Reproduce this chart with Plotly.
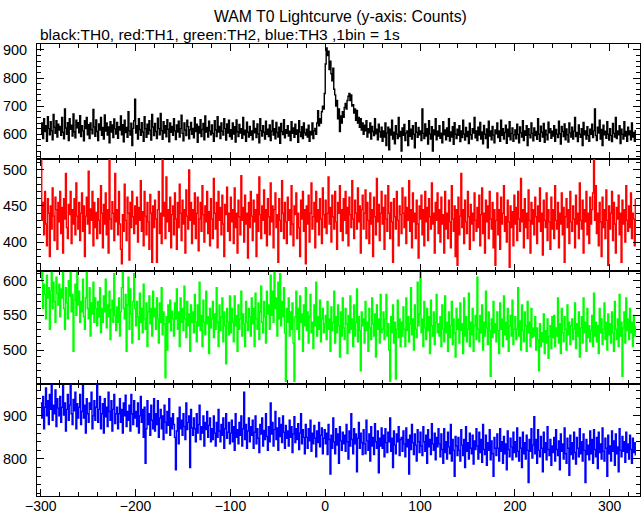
import plotly.graph_objects as go
from plotly.subplots import make_subplots

T_START = -300  # first bin time (s), 1 bin = 1 s

th0 = [
600, 640, 585, 655, 610, 630, 575, 662, 620, 598, 645, 612, 580, 670, 625, 603, 648, 590, 636, 615,
628, 596, 660, 607, 584, 690, 622, 600, 641, 578, 655, 618, 632, 594, 672, 609, 587, 650, 623, 641,
605, 666, 592, 630, 612, 577, 648, 620, 660, 598, 634, 585, 640, 617, 602, 688, 626, 593, 651, 610,
578, 637, 615, 660, 596, 624, 583, 669, 611, 640, 597, 626, 570, 645, 608, 633, 588, 654, 619, 601,
642, 586, 627, 615, 665, 598, 634, 573, 650, 606, 624, 589, 680, 612, 597, 639, 560, 621, 648, 725,
604, 630, 583, 655, 617, 596, 641, 608, 575, 662, 620, 589, 636, 601, 648, 614, 579, 670, 626, 595,
638, 610, 585, 657, 620, 598, 674, 613, 582, 645, 604, 630, 591, 652, 618, 573, 640, 607, 628, 596,
655, 612, 581, 633, 608, 646, 590, 620, 668, 603, 577, 640, 615, 595, 650, 627, 584, 616, 642, 600,
621, 587, 659, 610, 636, 571, 628, 604, 652, 592, 617, 638, 580, 665, 608, 624, 590, 646, 612, 598,
633, 603, 575, 648, 615, 592, 662, 608, 628, 585, 640, 611, 597, 655, 620, 579, 637, 604, 650, 592,
616, 583, 640, 601, 627, 572, 651, 609, 592, 635, 604, 620, 586, 660, 598, 614, 575, 643, 607, 590,
628, 596, 612, 580, 647, 605, 621, 588, 637, 602, 570, 655, 613, 594, 630, 607, 583, 646, 600, 618,
592, 633, 578, 611, 649, 597, 620, 584, 642, 606, 590, 625, 568, 638, 610, 599, 652, 587, 616, 603,
630, 594, 611, 578, 645, 603, 622, 589, 636, 600, 615, 571, 648, 608, 592, 627, 585, 640, 605, 597,
618, 590, 632, 575, 610, 598, 640, 585, 612, 621, 600, 640, 684, 630, 655, 640, 680, 700, 690, 745,
850, 907, 880, 895, 830, 860, 815, 790, 835, 760, 740, 700, 720, 655, 690, 610, 665, 640, 680, 660,
695, 710, 690, 720, 735, 745, 720, 740, 700, 705, 675, 690, 650, 685, 640, 660, 625, 655, 615, 640,
600, 632, 612, 648, 590, 620, 605, 640, 583, 628, 610, 595, 655, 602, 618, 580, 636, 609, 590, 625,
575, 612, 590, 640, 560, 605, 625, 545, 618, 597, 650, 583, 607, 566, 630, 600, 585, 660, 592, 610,
540, 622, 596, 635, 578, 604, 612, 560, 648, 593, 618, 583, 630, 600, 552, 641, 607, 589, 624, 598,
612, 578, 690, 603, 585, 637, 594, 620, 565, 648, 601, 583, 627, 540, 615, 598, 655, 580, 611, 594,
630, 586, 604, 570, 645, 598, 615, 580, 622, 593, 655, 576, 608, 590, 627, 564, 641, 600, 585, 618,
596, 630, 574, 612, 588, 650, 601, 579, 624, 592, 610, 567, 639, 598, 583, 620, 604, 660, 587, 612,
578, 625, 597, 642, 583, 608, 566, 631, 600, 585, 619, 552, 646, 594, 612, 580, 628, 597, 570, 615,
602, 640, 588, 612, 575, 650, 596, 620, 583, 606, 632, 568, 618, 592, 645, 580, 603, 622, 575, 598,
615, 584, 636, 599, 570, 626, 605, 590, 648, 578, 612, 596, 630, 560, 620, 598, 587, 640, 603, 577,
622, 595, 610, 582, 655, 600, 575, 629, 607, 590, 638, 571, 614, 598, 580, 643, 605, 620, 586, 611,
594, 630, 575, 617, 600, 588, 646, 602, 565, 628, 610, 592, 637, 580, 619, 598, 572, 640, 605, 590,
625, 583, 611, 660, 592, 606, 574, 633, 600, 589, 620, 560, 642, 598, 612, 583, 627, 596, 575, 618,
600, 636, 588, 612, 690, 595, 578, 625, 604, 650, 583, 617, 560, 632, 598, 611, 586, 645, 600, 579,
620, 596, 574, 638, 603, 590, 660, 585, 612, 598, 630, 567, 618, 600, 583, 645, 594, 610, 575, 625,
598, 612, 580, 640, 590, 606, 575, 615,
]

th1 = [
515, 430, 455, 410, 470, 425, 395, 460, 440, 380, 450, 418, 475, 436, 402, 462, 445, 390, 455, 428,
470, 412, 448, 385, 460, 432, 495, 420, 405, 452, 438, 470, 398, 445, 425, 460, 410, 482, 436, 418,
455, 402, 440, 468, 415, 450, 380, 436, 462, 425, 498, 412, 446, 430, 470, 395, 455, 420, 441, 405,
460, 430, 412, 478, 440, 392, 452, 425, 468, 410, 445, 385, 515, 432, 418, 456, 440, 402, 495, 428,
445, 410, 470, 425, 390, 370, 438, 415, 480, 430, 402, 462, 440, 375, 455, 420, 470, 435, 412, 450,
425, 462, 400, 448, 430, 485, 415, 442, 395, 470, 436, 410, 455, 428, 390, 466, 440, 372, 450, 420,
458, 432, 372, 445, 470, 412, 440, 398, 515, 436, 455, 405, 490, 428, 445, 415, 462, 392, 438, 450,
410, 468, 432, 390, 455, 420, 480, 440, 402, 458, 425, 445, 385, 472, 436, 418, 500, 430, 455, 398,
445, 425, 468, 405, 440, 462, 388, 432, 455, 415, 478, 438, 400, 450, 428, 470, 412, 442, 395, 460,
432, 405, 488, 440, 418, 455, 392, 470, 430, 448, 410, 465, 425, 380, 452, 438, 476, 415, 440, 402,
462, 428, 445, 398, 475, 420, 440, 385, 458, 435, 410, 492, 430, 448, 400, 465, 425, 440, 378, 455,
420, 470, 436, 402, 458, 428, 445, 380, 466, 415, 490, 438, 405, 450, 430, 472, 412, 445, 395, 460,
435, 410, 482, 428, 450, 392, 445, 468, 420, 438, 372, 460, 430, 415, 485, 440, 405, 455, 428, 398,
462, 430, 445, 410, 478, 425, 395, 450, 438, 468, 405, 440, 420, 380, 458, 432, 470, 415, 445, 370,
450, 425, 465, 400, 440, 482, 418, 435, 455, 392, 470, 428, 445, 410, 460, 432, 398, 475, 438, 420,
458, 412, 440, 490, 425, 448, 400, 465, 435, 418, 470, 428, 390, 455, 440, 478, 415, 445, 402, 460,
430, 470, 412, 448, 395, 462, 438, 420, 485, 432, 405, 458, 440, 418, 475, 428, 450, 385, 445, 465,
418, 440, 472, 405, 455, 430, 398, 468, 425, 445, 380, 462, 435, 410, 488, 428, 452, 402, 440, 470,
425, 448, 390, 465, 432, 415, 478, 440, 405, 455, 428, 372, 460, 435, 418, 470, 430, 395, 450, 438,
412, 475, 440, 420, 462, 398, 448, 430, 485, 415, 445, 392, 468, 428, 440, 405, 458, 425, 378, 450,
432, 465, 410, 445, 395, 470, 428, 448, 402, 460, 435, 418, 482, 425, 440, 385, 455, 430, 468, 412,
445, 400, 462, 425, 438, 385, 470, 418, 440, 405, 458, 428, 392, 478, 432, 415, 450, 380, 445, 368,
462, 410, 436, 495, 420, 445, 398, 458, 428, 412, 470, 435, 390, 452, 425, 440, 402, 468, 430, 415,
448, 420, 465, 395, 438, 475, 412, 440, 385, 458, 428, 450, 405, 470, 432, 418, 455, 392, 445, 368,
430, 468, 410, 445, 390, 462, 425, 440, 478, 415, 435, 400, 458, 428, 365, 450, 420, 442, 395, 465,
425, 448, 402, 470, 432, 415, 488, 428, 445, 392, 460, 420, 440, 405, 472, 430, 385, 455, 425, 445,
410, 462, 435, 398, 450, 428, 475, 415, 440, 382, 458, 430, 420, 468, 402, 445, 428, 390, 462, 418,
445, 405, 478, 430, 418, 455, 392, 440, 425, 468, 410, 448, 372, 435, 460, 420, 445, 398, 470, 428,
415, 450, 432, 392, 465, 425, 440, 405, 482, 430, 418, 458, 385, 445, 428, 470, 410, 440, 398, 462,
425, 445, 468, 515, 430, 478, 412, 440, 395, 455, 428, 380, 462, 420, 445, 405, 472, 430, 368, 450,
418, 440, 470, 402, 455, 425, 385, 448, 432, 465, 410, 440, 372, 458, 425, 445, 400, 478, 430, 415,
450, 420, 468, 405, 440, 432, 395, 460,
]

th2 = [
600, 612, 560, 595, 580, 545, 608, 575, 590, 530, 585, 612, 560, 598, 570, 540, 605, 582, 565, 595,
548, 588, 575, 612, 560, 530, 590, 568, 545, 600, 578, 612, 555, 580, 498, 572, 595, 550, 612, 565,
585, 540, 570, 555, 602, 548, 530, 575, 612, 560, 545, 590, 520, 568, 552, 598, 540, 575, 560, 535,
570, 548, 590, 525, 560, 540, 578, 555, 602, 532, 565, 548, 585, 515, 558, 572, 540, 610, 550, 528,
562, 540, 575, 520, 555, 590, 612, 560, 545, 580, 498, 565, 605, 530, 588, 552, 510, 570, 610, 560,
535, 570, 548, 515, 582, 540, 560, 525, 595, 545, 530, 568, 505, 555, 578, 538, 560, 520, 585, 548,
560, 530, 575, 545, 510, 568, 540, 590, 522, 555, 538, 460, 548, 500, 565, 540, 572, 528, 556, 545,
520, 568, 545, 588, 530, 555, 505, 575, 540, 560, 528, 592, 545, 518, 570, 535, 552, 498, 565, 540,
555, 525, 580, 540, 512, 565, 535, 598, 528, 550, 505, 572, 540, 522, 585, 538, 548, 495, 560, 532,
545, 570, 518, 552, 530, 590, 540, 505, 565, 528, 548, 575, 512, 555, 535, 480, 560, 540, 522, 578,
525, 560, 540, 512, 578, 535, 550, 498, 565, 530, 545, 585, 520, 552, 538, 505, 570, 540, 528, 560,
548, 520, 575, 538, 560, 505, 582, 545, 530, 568, 515, 555, 592, 540, 525, 570, 548, 510, 585, 552,
565, 530, 608, 550, 585, 540, 612, 560, 575, 520, 598, 545, 610, 535, 570, 548, 590, 525, 455, 560,
540, 575, 520, 555, 530, 568, 510, 455, 548, 585, 530, 560, 515, 578, 540, 552, 498, 565, 535, 590,
528, 555, 510, 548, 580, 525, 540, 502, 565, 535, 598, 520, 548, 530, 572, 512, 545, 560, 525, 538,
550, 515, 570, 530, 545, 498, 562, 528, 540, 585, 510, 548, 525, 565, 535, 490, 555, 520, 575, 532,
515, 560, 538, 495, 550, 525, 578, 530, 545, 505, 565, 520, 540, 588, 512, 548, 528, 470, 555, 535,
545, 510, 570, 528, 540, 498, 560, 532, 515, 575, 538, 520, 552, 490, 565, 530, 545, 510, 580, 525,
530, 555, 515, 545, 580, 520, 538, 500, 455, 548, 525, 565, 510, 540, 458, 530, 572, 518, 545, 505,
540, 520, 562, 530, 505, 575, 528, 548, 512, 538, 590, 522, 545, 500, 565, 530, 518, 598, 535, 552,
612, 525, 545, 505, 570, 532, 515, 560, 528, 548, 495, 572, 535, 520, 555, 508, 540, 580, 525, 538,
520, 548, 505, 565, 530, 512, 578, 525, 540, 498, 555, 518, 535, 570, 508, 545, 525, 490, 560, 530,
545, 510, 568, 528, 538, 495, 575, 520, 548, 512, 530, 582, 505, 540, 522, 560, 498, 535, 550, 515,
605, 530, 512, 550, 525, 565, 500, 540, 520, 585, 532, 508, 555, 528, 462, 545, 518, 570, 525, 538,
512, 555, 528, 495, 568, 530, 545, 505, 578, 522, 540, 515, 560, 498, 535, 550, 520, 572, 508, 530,
548, 515, 530, 590, 520, 542, 500, 565, 528, 512, 555, 535, 498, 570, 525, 540, 505, 560, 518, 532,
520, 548, 500, 532, 515, 470, 538, 505, 525, 512, 552, 495, 528, 510, 545, 488, 520, 535, 502, 548,
518, 550, 505, 532, 520, 575, 510, 538, 495, 560, 525, 512, 548, 530, 500, 565, 522, 540, 508, 535,
545, 515, 530, 568, 502, 538, 520, 555, 490, 532, 548, 510, 575, 525, 540, 498, 560, 518, 535, 512,
528, 550, 505, 582, 520, 540, 512, 535, 495, 560, 525, 545, 508, 530, 568, 515, 540, 500, 552, 522,
538, 510, 555, 525, 498, 570, 530, 515, 545, 505, 580, 520, 540, 462, 532, 555, 510, 575, 528, 545,
515, 560, 525, 540, 505, 550, 520, 535,
]

th3 = [
930, 895, 945, 870, 920, 965, 900, 935, 880, 950, 915, 972, 890, 925, 905, 960, 875, 940, 918, 900,
945, 885, 920, 970, 902, 930, 865, 915, 950, 890, 925, 972, 905, 880, 938, 912, 955, 870, 928, 895,
920, 950, 880, 910, 970, 895, 925, 860, 940, 905, 885, 930, 915, 955, 870, 900, 935, 890, 920, 972,
885, 915, 945, 870, 905, 928, 860, 940, 898, 920, 875, 955, 910, 890, 935, 865, 915, 950, 882, 905,
920, 870, 905, 940, 885, 915, 860, 930, 900, 948, 875, 910, 890, 925, 865, 950, 905, 880, 935, 895,
910, 875, 930, 860, 900, 945, 885, 915, 850, 920, 790, 870, 935, 880, 905, 855, 925, 890, 870, 940,
865, 905, 880, 935, 850, 895, 915, 870, 900, 845, 925, 885, 860, 910, 878, 940, 855, 895, 870, 905,
880, 850, 775, 865, 895, 835, 920, 870, 890, 855, 905, 875, 845, 930, 868, 885, 900, 780, 915, 872,
855, 895, 870, 840, 905, 860, 880, 925, 845, 875, 860, 900, 830, 885, 868, 910, 850, 878, 895, 840,
870, 845, 900, 860, 830, 885, 850, 915, 865, 840, 880, 855, 895, 825, 870, 905, 848, 862, 885, 835,
860, 890, 840, 875, 820, 905, 850, 868, 835, 885, 855, 900, 830, 870, 955, 845, 880, 825, 865, 895,
840, 875, 855, 890, 825, 862, 900, 835, 870, 848, 815, 880, 858, 895, 830, 866, 845, 905, 852, 820,
875, 840, 930, 858, 885, 830, 868, 910, 845, 872, 820, 895, 852, 880, 838, 900, 862, 825, 878, 848,
865, 830, 890, 850, 875, 815, 858, 898, 838, 870, 845, 882, 822, 860, 905, 835, 868, 850, 812, 880,
850, 825, 870, 842, 890, 818, 860, 835, 878, 848, 805, 865, 838, 885, 828, 855, 872, 812, 848, 868,
835, 860, 810, 880, 845, 765, 855, 825, 895, 840, 812, 870, 832, 858, 790, 875, 842, 820, 862, 835,
855, 818, 880, 840, 800, 865, 830, 905, 845, 812, 870, 835, 858, 770, 848, 885, 825, 860, 838, 810,
868, 835, 812, 890, 842, 820, 858, 795, 875, 830, 850, 810, 882, 840, 825, 865, 768, 848, 830, 872,
825, 855, 805, 870, 838, 815, 862, 840, 895, 818, 848, 780, 865, 832, 812, 858, 840, 875, 808, 845,
850, 818, 865, 835, 805, 872, 828, 845, 765, 855, 822, 880, 838, 810, 858, 832, 795, 868, 840, 815,
862, 830, 808, 875, 840, 818, 855, 790, 868, 828, 845, 810, 882, 835, 820, 860, 798, 850, 828, 870,
835, 805, 858, 822, 790, 870, 815, 840, 800, 862, 828, 812, 880, 795, 845, 820, 760, 852, 830, 808,
850, 820, 795, 868, 832, 808, 845, 780, 875, 818, 838, 800, 860, 825, 812, 855, 788, 842, 822, 870,
830, 800, 862, 815, 845, 792, 880, 822, 810, 855, 785, 838, 820, 868, 798, 842, 812, 760, 850, 825,
808, 858, 825, 795, 870, 818, 840, 790, 852, 812, 835, 775, 865, 822, 805, 848, 828, 798, 862, 815,
840, 805, 872, 818, 795, 850, 825, 780, 862, 812, 838, 800, 855, 820, 745, 845, 818, 870, 802, 832,
898, 812, 845, 790, 868, 820, 805, 852, 825, 770, 862, 815, 838, 798, 875, 822, 808, 845, 785, 830,
815, 850, 795, 868, 822, 808, 842, 775, 858, 818, 835, 800, 872, 812, 790, 848, 825, 762, 855, 810,
838, 800, 862, 815, 788, 850, 825, 805, 870, 812, 840, 795, 858, 820, 745, 845, 810, 832, 798, 865,
812, 845, 790, 868, 822, 805, 850, 778, 862, 815, 835, 800, 872, 818, 795, 848, 825, 760, 855, 812,
830, 795, 865, 818, 842, 785, 858, 812, 828, 770, 870, 820, 805, 852, 818, 840, 792, 862, 815, 835,
800, 855, 822, 790, 848, 815, 838, 808,
]

series = [th0, th1, th2, th3]
colors = ["#000000", "#ff0000", "#00ff00", "#0000ff"]
y_ranges = [[512, 921], [360, 515], [451, 614], [714, 974]]
y_dticks = [100, 50, 50, 100]
y_minor = [20, 10, 10, 20]

title_text = "WAM T0 Lightcurve (y-axis: Counts)"
subtitle_text = "black:TH0, red:TH1, green:TH2, blue:TH3 ,1bin = 1s"

fig = make_subplots(rows=4, cols=1, shared_xaxes=True, vertical_spacing=0,
                    row_heights=[115, 112, 113, 112])

for i, (vals, col) in enumerate(zip(series, colors)):
    t = [T_START + k for k in range(len(vals))]
    fig.add_trace(go.Scatter(x=t, y=vals, mode="lines", line_shape="hv",
                             line=dict(color=col, width=1.4), hoverinfo="skip",
                             showlegend=False), row=i + 1, col=1)

FAMILY = "Liberation Sans, Arial, sans-serif"
font = dict(family=FAMILY, size=14.5, color="black")

for i in range(4):
    fig.update_yaxes(range=y_ranges[i], dtick=y_dticks[i], tick0=0, automargin=False,
                     showgrid=False, zeroline=False, showline=True, mirror="ticks",
                     linecolor="black", linewidth=1, ticks="inside", ticklen=7,
                     tickcolor="black", tickwidth=1, tickfont=font,
                     ticklabelstandoff=6,
                     minor=dict(ticks="inside", ticklen=4, dtick=y_minor[i], tick0=0,
                                tickcolor="black", showgrid=False),
                     row=i + 1, col=1)
    fig.update_xaxes(range=[-304, 332], dtick=100, tick0=0, automargin=False,
                     showgrid=False, zeroline=False, showline=True, mirror="ticks",
                     linecolor="black", linewidth=1, ticks="inside", ticklen=7,
                     tickcolor="black", tickwidth=1,
                     tickfont=dict(family=FAMILY, size=14, color="black"),
                     ticklabelstandoff=-3,
                     minor=dict(ticks="inside", ticklen=4, dtick=20, tick0=0,
                                tickcolor="black", showgrid=False),
                     row=i + 1, col=1)

fig.update_layout(
    width=643, height=515,
    margin=dict(l=37, r=3, t=44, b=19, autoexpand=False),
    paper_bgcolor="white", plot_bgcolor="white",
    font=font, showlegend=False,
    annotations=[
        dict(text=title_text, xref="paper", yref="paper", x=(340 - 37) / 603, y=1 + 27 / 452,
             xanchor="center", yanchor="middle", showarrow=False,
             font=dict(family=FAMILY, size=15.8, color="black")),
        dict(text=subtitle_text, xref="paper", yref="paper", x=1 / 603, y=1 + 9 / 452,
             xanchor="left", yanchor="middle", showarrow=False,
             font=dict(family=FAMILY, size=15.5, color="black")),
    ],
)

# Remove the default page margin so the figure starts at the window's top-left corner.
fig.write_html("out.html", config={"displayModeBar": False},
               post_script="document.body.style.margin='0';document.body.style.overflow='hidden';")
